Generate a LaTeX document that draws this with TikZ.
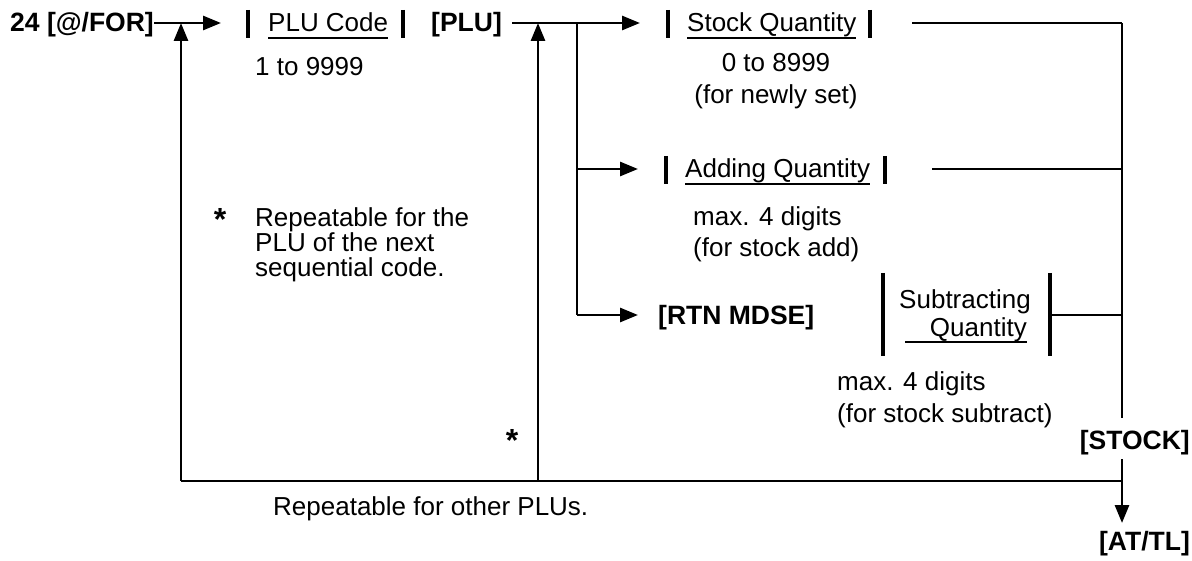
\documentclass[tikz,border=0pt]{standalone}
\usepackage{fontspec}
\setmainfont{Liberation Sans}
\usetikzlibrary{arrows.meta,calc}
\tikzset{
  txt/.style={inner sep=0pt, font=\fontsize{26}{31}\selectfont},
  btxt/.style={inner sep=0pt, font=\fontsize{26.5}{31}\selectfont\bfseries},
  ln/.style={line width=2.8pt},
  arr/.style={ln, -{Triangle[length=18pt,width=14pt]}},
  bar/.style={line width=3.2pt},
  uline/.style={line width=1.6pt},
  star/.style={inner sep=0pt, font=\fontsize{32}{31}\selectfont\bfseries},
}
\begin{document}
\begin{tikzpicture}[x=1pt,y=-1pt]
\useasboundingbox (0,0) rectangle (1192,561);
% ---------- top row ----------
\node[btxt, anchor=base west] (for) at (10,32) {24 [@/FOR]};
\coordinate (a1) at (221,23);
\coordinate (j1) at (181,23);
\coordinate (b1) at (181,481);
\draw[arr] (for.east |- a1) -- (a1);
\draw[arr] (b1) -- (j1);

\node[txt, anchor=base west] (plucode) at (268,32) {PLU Code};
\draw[bar] (248,10) -- (248,38);
\draw[bar] (403,10) -- (403,38);
\draw[uline] ($(plucode.base west)+(0,6)$) -- ($(plucode.base east)+(0,6)$);
\node[txt, anchor=base west] (r9999) at (255,76) {1 to 9999};

\node[btxt, anchor=base west] (plu) at (431,32) {[PLU]};
\coordinate (a2) at (640,23);
\coordinate (j2) at (538,23);
\coordinate (b2) at (538,481);
\coordinate (k1) at (577,23);
\coordinate (k2) at (577,169);
\coordinate (k3) at (577,315);
\draw[arr] ([xshift=10pt]plu.east |- a2) -- (a2);
\draw[arr] (b2) -- (j2);
\draw[ln] (k1) -- (k3);

% Stock quantity
\node[txt, anchor=base west] (sq) at (687,32) {Stock Quantity};
\draw[bar] (668,10) -- (668,38);
\draw[bar] (870,10) -- (870,38);
\draw[uline] ($(sq.base west)+(0,6)$) -- ($(sq.base east)+(0,6)$);
\node[txt, anchor=base] (sq1) at (776,72) {0 to 8999};
\node[txt, anchor=base] (sq2) at (776,104) {(for newly set)};
\coordinate (r1) at (912,23);
\coordinate (c1) at (1122,23);
\draw[ln] (r1) -- (c1);

% Adding quantity
\coordinate (a3) at (638,169);
\draw[arr] (k2) -- (a3);
\node[txt, anchor=base west] (aq) at (685,178) {Adding Quantity};
\draw[bar] (666,156) -- (666,184);
\draw[bar] (885,156) -- (885,184);
\draw[uline] ($(aq.base west)+(0,6)$) -- ($(aq.base east)+(0,6)$);
\node[txt, anchor=base west] (aq1) at (693,226) {max. 4 digits};
\node[txt, anchor=base west] (aq2) at (693,257) {(for stock add)};
\coordinate (r2) at (932,169);
\coordinate (c2) at (1122,169);
\draw[ln] (r2) -- (c2);

% RTN MDSE
\coordinate (a4) at (638,315);
\draw[arr] (k3) -- (a4);
\node[btxt, anchor=base west] (rtn) at (658,325) {[RTN MDSE]};
\draw[bar] (883,273) -- (883,356);
\draw[bar] (1050,273) -- (1050,356);
\node[txt, anchor=base] (sub1) at (965,309) {Subtracting};
\node[txt, anchor=base east] (sub2) at (1027,337) {Quantity};
\draw[uline] (905,342) -- (sub2.base east |- 0,342);
\node[txt, anchor=base west] (sb1) at (837,391) {max. 4 digits};
\node[txt, anchor=base west] (sb2) at (837,422) {(for stock subtract)};
\coordinate (r3) at (1050,315);
\coordinate (c3) at (1122,315);
\draw[ln] (r3) -- (c3);

% STOCK and AT/TL
\node[btxt, anchor=base east] (stock) at (1190,449) {[STOCK]};
\draw[ln] (c1) -- (c1 |- 0,418);
\coordinate (c4) at (1122,481);
\coordinate (a5) at (1122,523);
\draw[arr] (c1 |- 0,459) -- (a5);
\node[btxt, anchor=base east] (attl) at (1190,550) {[AT/TL]};

% bottom loop
\draw[ln] (b1) -- (c4);

% notes
\node[star] (st1) at (220,219) {*};
\node[txt, anchor=base west] (n1) at (255,227) {Repeatable for the};
\node[txt, anchor=base west] (n2) at (255,252) {PLU of the next};
\node[txt, anchor=base west] (n3) at (255,277) {sequential code.};
\node[star] (st2) at (512,440) {*};
\node[txt, anchor=base west] (n4) at (273,515) {Repeatable for other PLUs.};
\end{tikzpicture}
\end{document}
